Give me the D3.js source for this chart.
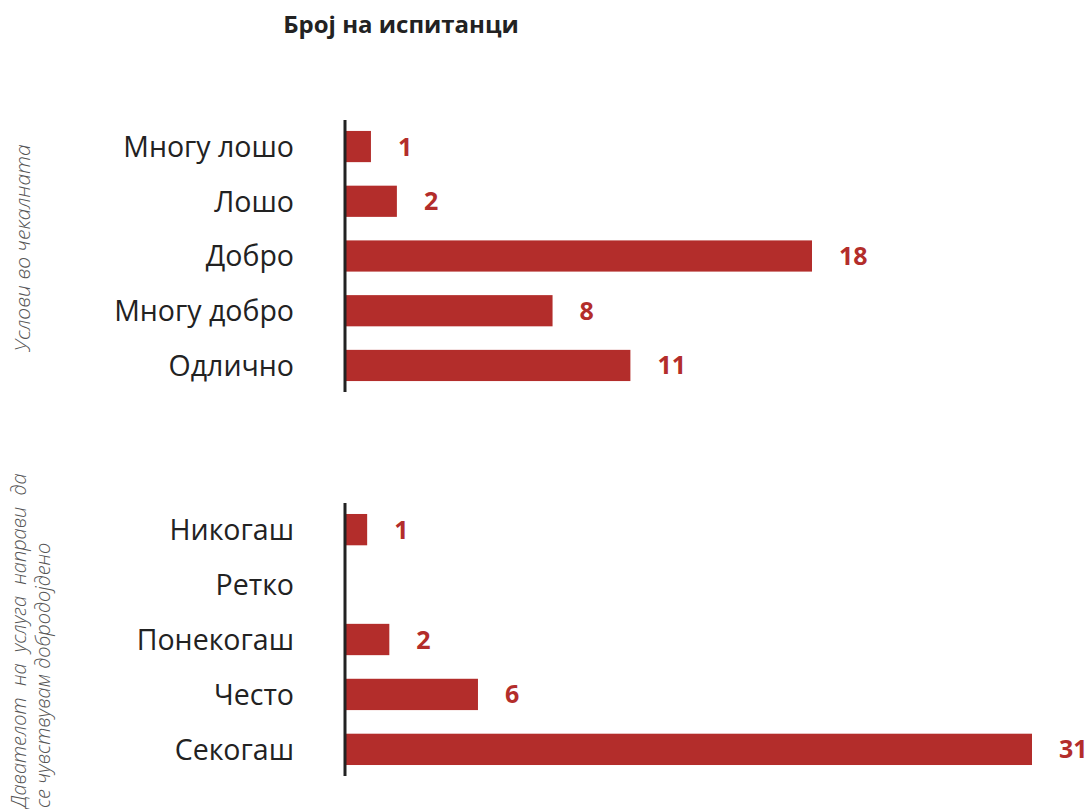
<!DOCTYPE html>
<html>
<head>
<meta charset="utf-8">
<script src="https://cdn.jsdelivr.net/npm/d3@7"></script>
<style>
  body { margin: 0; background: #fff; }
  text { font-family: "Open Sans", "Noto Sans", sans-serif; }
</style>
</head>
<body>
<svg id="chart" width="1088" height="809"></svg>
<script>
// Data
var topCategories = ["Многу лошо", "Лошо", "Добро", "Многу добро", "Одлично"];
var topValues = [1, 2, 18, 8, 11];
var bottomCategories = ["Никогаш", "Ретко", "Понекогаш", "Често", "Секогаш"];
var bottomValues = [1, 0, 2, 6, 31];

var barColor = "#b32d2b";

var svg = d3.select("#chart");

// Title
svg.append("text")
    .attr("x", 401)
    .attr("y", 33)
    .attr("text-anchor", "middle")
    .style("font-size", "24px")
    .style("font-weight", 700)
    .style("fill", "#222")
    .text("Број на испитанци");

function drawPanel(cats, vals, top, bottom, maxVal, maxX) {
    var x = d3.scaleLinear()
        .domain([0, maxVal])
        .range([345, maxX]);

    var y = d3.scaleBand()
        .domain(cats)
        .range([top, bottom])
        .paddingInner(0.43)
        .paddingOuter(0.2);

    var g = svg.append("g");

    var rows = cats.map(function (c, i) { return { cat: c, val: vals[i] }; });

    g.selectAll("rect")
        .data(rows.filter(function (d) { return d.val > 0; }))
        .enter()
        .append("rect")
        .attr("x", x(0))
        .attr("y", function (d) { return y(d.cat); })
        .attr("width", function (d) { return x(d.val) - x(0); })
        .attr("height", y.bandwidth())
        .attr("fill", barColor);

    // value labels
    g.selectAll(".val")
        .data(rows.filter(function (d) { return d.val > 0; }))
        .enter()
        .append("text")
        .attr("class", "val")
        .attr("x", function (d) { return x(d.val) + 27; })
        .attr("y", function (d) { return y(d.cat) + y.bandwidth() / 2; })
        .attr("dy", "0.36em")
        .style("font-size", "25px")
        .style("font-weight", 700)
        .style("fill", barColor)
        .text(function (d) { return d.val; });

    // category labels
    g.selectAll(".cat")
        .data(rows)
        .enter()
        .append("text")
        .attr("class", "cat")
        .attr("x", 294)
        .attr("y", function (d) { return y(d.cat) + y.bandwidth() / 2; })
        .attr("dy", "0.36em")
        .attr("text-anchor", "end")
        .style("font-size", "28.5px")
        .style("fill", "#222")
        .text(function (d) { return d.cat; });

    // axis line
    g.append("line")
        .attr("x1", x(0)).attr("x2", x(0))
        .attr("y1", top).attr("y2", bottom)
        .attr("stroke", "#222")
        .attr("stroke-width", 3);
}

drawPanel(topCategories, topValues, 120, 392, 18, 812);
drawPanel(bottomCategories, bottomValues, 503, 776, 31, 1032);

// rotated axis titles
svg.append("text")
    .attr("transform", "translate(30,248) rotate(-90)")
    .attr("text-anchor", "middle")
    .style("font-size", "21px")
    .style("font-style", "italic")
    .style("font-weight", 300)
    .style("fill", "#555")
    .text("Услови во чекалната");

svg.append("text")
    .attr("transform", "translate(26,808) rotate(-90)")
    .style("font-size", "20px")
    .style("font-style", "italic")
    .style("font-weight", 300)
    .style("word-spacing", "6px")
    .style("fill", "#555")
    .text("Давателот на услуга направи да");

svg.append("text")
    .attr("transform", "translate(50,808) rotate(-90)")
    .style("font-size", "20px")
    .style("font-style", "italic")
    .style("font-weight", 300)
    .style("fill", "#555")
    .text("се чувствувам добродојдено");
</script>
</body>
</html>
